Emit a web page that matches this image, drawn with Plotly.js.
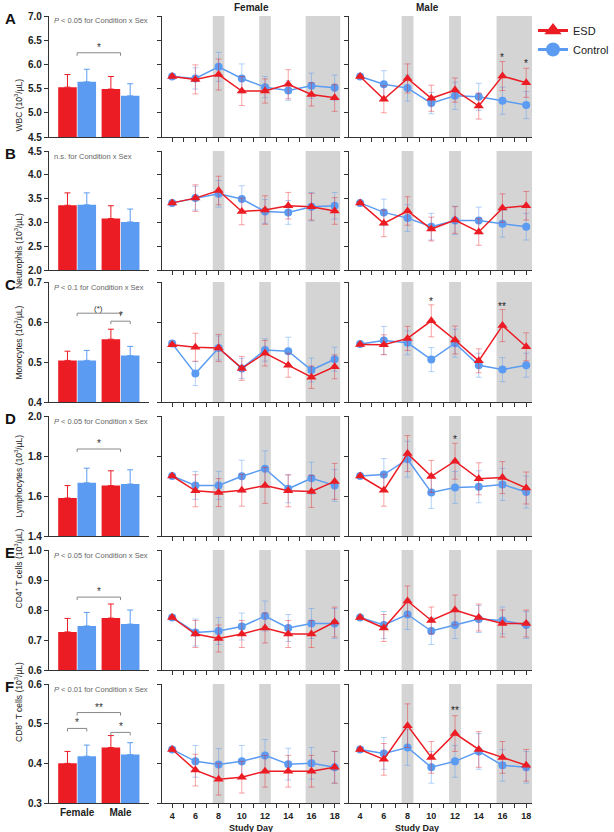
<!DOCTYPE html>
<html><head><meta charset="utf-8">
<script src="https://cdn.plot.ly/plotly-3.0.1.min.js"></script>
<style>html,body{margin:0;padding:0;background:#fff}#chart{width:614px;height:832px}</style>
</head><body><div id="chart"></div>
<script>
// ---------- DATA ----------
const days = [4, 6, 8, 10, 12, 14, 16, 18];
const sexes = ['Female', 'Male'];
const seriesNames = ['ESD', 'Control'];
const panelLetters = ['A', 'B', 'C', 'D', 'E', 'F'];
const yTitles = ['WBC (10<sup>3</sup>/µL)', 'Neutrophils (10<sup>3</sup>/µL)', 'Monocytes (10<sup>3</sup>/µL)',
  'Lymphocytes (10<sup>3</sup>/µL)', 'CD4<sup>+</sup> T cells (10<sup>3</sup>/µL)', 'CD8<sup>+</sup> T cells (10<sup>3</sup>/µL)'];
const interactionNotes = ['<i>P</i> < 0.05 for Condition x Sex', 'n.s. for Condition x Sex', '<i>P</i> < 0.1 for Condition x Sex',
  '<i>P</i> < 0.05 for Condition x Sex', '<i>P</i> < 0.05 for Condition x Sex', '<i>P</i> < 0.01 for Condition x Sex'];

// WBC
const wbcBarESD = [5.53, 5.49], wbcBarESDErr = [0.26, 0.26];
const wbcBarCtl = [5.64, 5.35], wbcBarCtlErr = [0.26, 0.25];
const wbcFemESD = [5.75, 5.69, 5.79, 5.45, 5.45, 5.59, 5.38, 5.31];
const wbcFemESDErr = [0.03, 0.30, 0.32, 0.30, 0.25, 0.30, 0.24, 0.28];
const wbcFemCtl = [5.75, 5.71, 5.95, 5.71, 5.53, 5.46, 5.56, 5.52];
const wbcFemCtlErr = [0.03, 0.22, 0.30, 0.30, 0.22, 0.20, 0.26, 0.26];
const wbcMaleESD = [5.75, 5.28, 5.71, 5.30, 5.47, 5.14, 5.76, 5.62];
const wbcMaleESDErr = [0.03, 0.28, 0.30, 0.27, 0.25, 0.27, 0.30, 0.30];
const wbcMaleCtl = [5.75, 5.59, 5.51, 5.20, 5.35, 5.33, 5.25, 5.16];
const wbcMaleCtlErr = [0.03, 0.28, 0.27, 0.22, 0.28, 0.28, 0.28, 0.28];

// Neutrophils
const neuBarESD = [3.36, 3.08], neuBarESDErr = [0.26, 0.27];
const neuBarCtl = [3.37, 3.01], neuBarCtlErr = [0.25, 0.27];
const neuFemESD = [3.41, 3.51, 3.67, 3.23, 3.26, 3.35, 3.33, 3.24];
const neuFemESDErr = [0.03, 0.28, 0.30, 0.28, 0.30, 0.28, 0.28, 0.28];
const neuFemCtl = [3.41, 3.51, 3.60, 3.49, 3.23, 3.21, 3.33, 3.35];
const neuFemCtlErr = [0.03, 0.25, 0.28, 0.28, 0.25, 0.25, 0.30, 0.28];
const neuMaleESD = [3.41, 2.98, 3.24, 2.86, 3.05, 2.80, 3.30, 3.35];
const neuMaleESDErr = [0.03, 0.28, 0.30, 0.25, 0.28, 0.28, 0.30, 0.30];
const neuMaleCtl = [3.41, 3.21, 3.09, 2.91, 3.04, 3.04, 2.97, 2.91];
const neuMaleCtlErr = [0.03, 0.28, 0.28, 0.28, 0.30, 0.28, 0.28, 0.28];

// Monocytes
const monBarESD = [0.504, 0.557], monBarESDErr = [0.023, 0.025];
const monBarCtl = [0.504, 0.516], monBarCtlErr = [0.025, 0.023];
const monFemESD = [0.543, 0.537, 0.535, 0.484, 0.522, 0.492, 0.462, 0.488];
const monFemESDErr = [0.003, 0.035, 0.034, 0.030, 0.032, 0.030, 0.028, 0.030];
const monFemCtl = [0.546, 0.471, 0.535, 0.484, 0.530, 0.527, 0.480, 0.507];
const monFemCtlErr = [0.003, 0.030, 0.030, 0.025, 0.028, 0.035, 0.030, 0.030];
const monMaleESD = [0.544, 0.543, 0.559, 0.603, 0.555, 0.503, 0.591, 0.538];
const monMaleESDErr = [0.003, 0.025, 0.030, 0.040, 0.035, 0.030, 0.040, 0.035];
const monMaleCtl = [0.545, 0.554, 0.548, 0.506, 0.547, 0.492, 0.481, 0.492];
const monMaleCtlErr = [0.003, 0.035, 0.030, 0.030, 0.035, 0.030, 0.030, 0.030];

// Lymphocytes
const lymBarESD = [1.59, 1.652], lymBarESDErr = [0.062, 0.074];
const lymBarCtl = [1.666, 1.66], lymBarCtlErr = [0.073, 0.071];
const lymFemESD = [1.70, 1.626, 1.617, 1.629, 1.653, 1.626, 1.623, 1.673];
const lymFemESDErr = [0.006, 0.08, 0.07, 0.08, 0.09, 0.08, 0.08, 0.09];
const lymFemCtl = [1.70, 1.653, 1.653, 1.699, 1.736, 1.636, 1.689, 1.653];
const lymFemCtlErr = [0.006, 0.07, 0.07, 0.08, 0.09, 0.07, 0.08, 0.08];
const lymMaleESD = [1.70, 1.629, 1.812, 1.698, 1.774, 1.686, 1.692, 1.640];
const lymMaleESDErr = [0.006, 0.08, 0.09, 0.08, 0.09, 0.08, 0.08, 0.08];
const lymMaleCtl = [1.70, 1.707, 1.784, 1.618, 1.643, 1.646, 1.658, 1.620];
const lymMaleCtlErr = [0.006, 0.08, 0.09, 0.08, 0.08, 0.08, 0.08, 0.08];

// CD4+ T cells
const cd4BarESD = [0.727, 0.773], cd4BarESDErr = [0.045, 0.047];
const cd4BarCtl = [0.747, 0.753], cd4BarCtlErr = [0.045, 0.047];
const cd4FemESD = [0.775, 0.720, 0.705, 0.720, 0.740, 0.720, 0.720, 0.760];
const cd4FemESDErr = [0.005, 0.045, 0.045, 0.045, 0.050, 0.045, 0.045, 0.050];
const cd4FemCtl = [0.775, 0.725, 0.730, 0.745, 0.780, 0.740, 0.755, 0.755];
const cd4FemCtlErr = [0.005, 0.045, 0.045, 0.045, 0.050, 0.045, 0.050, 0.050];
const cd4MaleESD = [0.775, 0.740, 0.830, 0.765, 0.800, 0.775, 0.755, 0.755];
const cd4MaleESDErr = [0.005, 0.045, 0.050, 0.045, 0.050, 0.045, 0.045, 0.045];
const cd4MaleCtl = [0.775, 0.750, 0.785, 0.730, 0.750, 0.770, 0.765, 0.750];
const cd4MaleCtlErr = [0.005, 0.045, 0.050, 0.045, 0.045, 0.045, 0.045, 0.045];

// CD8+ T cells
const cd8BarESD = [0.400, 0.440], cd8BarESDErr = [0.030, 0.030];
const cd8BarCtl = [0.418, 0.422], cd8BarCtlErr = [0.028, 0.030];
const cd8FemESD = [0.435, 0.383, 0.360, 0.365, 0.380, 0.380, 0.380, 0.390];
const cd8FemESDErr = [0.005, 0.040, 0.040, 0.040, 0.040, 0.040, 0.040, 0.040];
const cd8FemCtl = [0.435, 0.405, 0.397, 0.405, 0.420, 0.398, 0.400, 0.390];
const cd8FemCtlErr = [0.005, 0.040, 0.040, 0.040, 0.040, 0.040, 0.040, 0.040];
const cd8MaleESD = [0.435, 0.410, 0.495, 0.415, 0.475, 0.435, 0.415, 0.395];
const cd8MaleESDErr = [0.005, 0.040, 0.055, 0.040, 0.045, 0.045, 0.040, 0.040];
const cd8MaleCtl = [0.435, 0.425, 0.440, 0.390, 0.405, 0.430, 0.395, 0.390];
const cd8MaleCtlErr = [0.005, 0.040, 0.045, 0.040, 0.040, 0.045, 0.040, 0.040];

// ---------- BUILD ----------
const W = 614, H = 832;
const colPx = [[49, 149], [162, 341], [350, 533]];
const rowPx = [[16, 137], [151, 270], [282, 402], [416, 536], [550, 670], [684, 803]];
const px = p => p / W, py = p => 1 - p / H;
const RED = '#ec1c24', BLUE = '#5b9cf2';
const REDE = 'rgba(236,28,36,0.4)', BLUEE = 'rgba(91,156,242,0.45)';
const BW = (1 - 0.11) / 2; // bar width in category units
const off = BW / 2;

const panels = [
  {range: [4.5, 7], dtick: 0.5, bar: [wbcBarESD, wbcBarESDErr, wbcBarCtl, wbcBarCtlErr],
   fem: [wbcFemESD, wbcFemESDErr, wbcFemCtl, wbcFemCtlErr], male: [wbcMaleESD, wbcMaleESDErr, wbcMaleCtl, wbcMaleCtlErr],
   brackets: [[0, 1, 6.24, '*']], stars: [[16, 6.21, '*'], [18, 6.08, '*']]},
  {range: [2, 4.5], dtick: 0.5, bar: [neuBarESD, neuBarESDErr, neuBarCtl, neuBarCtlErr],
   fem: [neuFemESD, neuFemESDErr, neuFemCtl, neuFemCtlErr], male: [neuMaleESD, neuMaleESDErr, neuMaleCtl, neuMaleCtlErr],
   brackets: [], stars: []},
  {range: [0.4, 0.7], dtick: 0.1, bar: [monBarESD, monBarESDErr, monBarCtl, monBarCtlErr],
   fem: [monFemESD, monFemESDErr, monFemCtl, monFemCtlErr], male: [monMaleESD, monMaleESDErr, monMaleCtl, monMaleCtlErr],
   brackets: [[0, 1, 0.622, '(*)'], [1 - off, 1 + off, 0.602, '*']], stars: [[10, 0.659, '*'], [16, 0.647, '**']]},
  {range: [1.4, 2.0], dtick: 0.2, bar: [lymBarESD, lymBarESDErr, lymBarCtl, lymBarCtlErr],
   fem: [lymFemESD, lymFemESDErr, lymFemCtl, lymFemCtlErr], male: [lymMaleESD, lymMaleESDErr, lymMaleCtl, lymMaleCtlErr],
   brackets: [[0, 1, 1.835, '*']], stars: [[12, 1.897, '*']]},
  {range: [0.6, 1.0], dtick: 0.1, bar: [cd4BarESD, cd4BarESDErr, cd4BarCtl, cd4BarCtlErr],
   fem: [cd4FemESD, cd4FemESDErr, cd4FemCtl, cd4FemCtlErr], male: [cd4MaleESD, cd4MaleESDErr, cd4MaleCtl, cd4MaleCtlErr],
   brackets: [[0, 1, 0.843, '*']], stars: []},
  {range: [0.3, 0.6], dtick: 0.1, bar: [cd8BarESD, cd8BarESDErr, cd8BarCtl, cd8BarCtlErr],
   fem: [cd8FemESD, cd8FemESDErr, cd8FemCtl, cd8FemCtlErr], male: [cd8MaleESD, cd8MaleESDErr, cd8MaleCtl, cd8MaleCtlErr],
   brackets: [[0, 1, 0.528, '**'], [-off, off, 0.488, '*'], [1 - off, 1 + off, 0.478, '*']], stars: [[12, 0.542, '**']]}
];

const data = [];
const layout = {
  width: W, height: H, margin: {l: 0, r: 0, t: 0, b: 0},
  paper_bgcolor: '#fff', plot_bgcolor: 'rgba(0,0,0,0)',
  font: {family: 'Liberation Sans, Arial, sans-serif', color: '#222'},
  barmode: 'group', bargap: 0.11, bargroupgap: 0.04,
  showlegend: true,
  legend: {x: px(534), y: py(16), xanchor: 'left', yanchor: 'top', font: {size: 11, color: '#222'},
           bgcolor: 'rgba(0,0,0,0)', borderwidth: 0, itemsizing: 'trace', tracegroupgap: 0},
  shapes: [], annotations: []
};

panels.forEach((p, r) => {
  const span = p.range[1] - p.range[0];
  const hpx = rowPx[r][1] - rowPx[r][0];
  const u = span / hpx; // data per px
  for (let c = 0; c < 3; c++) {
    const k = r * 3 + c + 1;
    const sfx = k === 1 ? '' : String(k);
    const xa = 'x' + sfx, ya = 'y' + sfx;
    const xCommon = {domain: [px(colPx[c][0]), px(colPx[c][1])], anchor: ya, showline: true, linecolor: '#333',
      linewidth: 1, showgrid: false, zeroline: false, fixedrange: true,
      tickfont: {size: c === 0 ? 10 : 9, weight: 'bold', color: '#222'}};
    if (c === 0) {
      layout['xaxis' + sfx] = Object.assign(xCommon, {range: [-0.65, 1.65], tickvals: [0, 1], ticktext: sexes,
        ticks: '', showticklabels: r === 5});
    } else {
      layout['xaxis' + sfx] = Object.assign(xCommon, {range: [3.1, 18.5], tickmode: 'linear', tick0: 4, dtick: 2,
        ticks: 'outside', ticklen: 4, tickwidth: 1, tickcolor: '#333', showticklabels: r === 5,
        minor: {tick0: 4, dtick: 1, ticks: 'outside', ticklen: 4, tickwidth: 1, tickcolor: '#333', showgrid: false}});
    }
    layout['yaxis' + sfx] = {domain: [py(rowPx[r][1]), py(rowPx[r][0])], anchor: xa, range: p.range,
      tick0: p.range[0], dtick: p.dtick, tickformat: '.1f', ticks: 'outside', ticklen: 4, tickwidth: 1,
      tickcolor: '#333', showline: true, linecolor: '#333', linewidth: 1, showgrid: false, zeroline: false,
      showticklabels: c === 0, tickfont: {size: 10, weight: 'bold', color: '#222'}, fixedrange: true};

    if (c === 0) {
      data.push({type: 'bar', x: [0, 1], y: p.bar[0], xaxis: xa, yaxis: ya, name: seriesNames[0],
        marker: {color: RED}, showlegend: false, hoverinfo: 'skip',
        error_y: {type: 'data', array: p.bar[1], arrayminus: [0, 0], symmetric: false, color: RED, thickness: 1, width: 3}});
      data.push({type: 'bar', x: [0, 1], y: p.bar[2], xaxis: xa, yaxis: ya, name: seriesNames[1],
        marker: {color: BLUE}, showlegend: false, hoverinfo: 'skip',
        error_y: {type: 'data', array: p.bar[3], arrayminus: [0, 0], symmetric: false, color: BLUE, thickness: 1, width: 3}});
      p.brackets.forEach(b => {
        const d = 3 * u;
        layout.shapes.push({type: 'path', xref: xa, yref: ya,
          path: `M ${b[0]},${b[2] - d} L ${b[0]},${b[2]} L ${b[1]},${b[2]} L ${b[1]},${b[2] - d}`,
          line: {color: '#888', width: 1}});
        layout.annotations.push({xref: xa, yref: ya, x: (b[0] + b[1]) / 2, y: b[2], text: b[3], showarrow: false,
          yanchor: 'bottom', yshift: -2, font: {size: b[3] === '(*)' ? 8 : 10, color: '#333'}});
      });
      layout.annotations.push({xref: 'paper', yref: 'paper', x: px(52), y: py(rowPx[r][0] + 5), xanchor: 'left',
        yanchor: 'middle', text: interactionNotes[r], showarrow: false, font: {size: 7.5, color: '#666'}});
      layout.annotations.push({xref: 'paper', yref: 'paper', x: px(11), y: py((rowPx[r][0] + rowPx[r][1]) / 2),
        text: yTitles[r], textangle: -90, showarrow: false, font: {size: 8.5, color: '#222'}});
      layout.annotations.push({xref: 'paper', yref: 'paper', x: px(3), y: py(rowPx[r][0] + 2), xanchor: 'left',
        yanchor: 'middle', text: '<b>' + panelLetters[r] + '</b>', showarrow: false, font: {size: 15, color: '#111'}});
    } else {
      const s = c === 1 ? p.fem : p.male;
      [[7.5, 8.5], [11.5, 12.5], [15.5, 18.5]].forEach(bd => {
        layout.shapes.push({type: 'rect', xref: xa, yref: ya + ' domain', x0: bd[0], x1: bd[1], y0: 0, y1: 1,
          fillcolor: '#d4d4d4', line: {width: 0}, layer: 'below'});
      });
      data.push({type: 'scatter', mode: 'lines+markers', x: days, y: s[2], xaxis: xa, yaxis: ya, name: seriesNames[1],
        line: {color: BLUE, width: 1.5}, marker: {symbol: 'circle', size: 8, color: BLUE}, showlegend: false,
        hoverinfo: 'skip', error_y: {type: 'data', array: s[3], color: BLUEE, thickness: 1, width: 3}});
      data.push({type: 'scatter', mode: 'lines+markers', x: days, y: s[0], xaxis: xa, yaxis: ya, name: seriesNames[0],
        line: {color: RED, width: 1.5}, marker: {symbol: 'triangle-up', size: 9, color: RED}, showlegend: false,
        hoverinfo: 'skip', error_y: {type: 'data', array: s[1], color: REDE, thickness: 1, width: 3}});
      if (c === 2) {
        p.stars.forEach(st => layout.annotations.push({xref: xa, yref: ya, x: st[0], y: st[1], text: st[2],
          showarrow: false, yshift: -3, font: {size: 10, color: '#222'}}));
      }
      if (r === 0) {
        layout.annotations.push({xref: 'paper', yref: 'paper', x: px((colPx[c][0] + colPx[c][1]) / 2), y: py(7),
          text: '<b>' + sexes[c - 1] + '</b>', showarrow: false, yanchor: 'middle', font: {size: 10, color: '#222'}});
      }
      if (r === 5) {
        layout.annotations.push({xref: 'paper', yref: 'paper', x: px((colPx[c][0] + colPx[c][1]) / 2), y: py(828),
          text: '<b>Study Day</b>', showarrow: false, yanchor: 'middle', font: {size: 9, color: '#222'}});
      }
    }
  }
});

// legend entries
data.push({type: 'scatter', mode: 'lines+markers', x: [null], y: [null], xaxis: 'x3', yaxis: 'y3', name: seriesNames[0],
  line: {color: RED, width: 3}, marker: {symbol: 'triangle-up', size: 15, color: RED}, showlegend: true, hoverinfo: 'skip'});
data.push({type: 'scatter', mode: 'lines+markers', x: [null], y: [null], xaxis: 'x3', yaxis: 'y3', name: seriesNames[1],
  line: {color: BLUE, width: 3}, marker: {symbol: 'circle', size: 14, color: BLUE}, showlegend: true, hoverinfo: 'skip'});

Plotly.newPlot('chart', data, layout, {displayModeBar: false, staticPlot: true});
</script></body></html>
